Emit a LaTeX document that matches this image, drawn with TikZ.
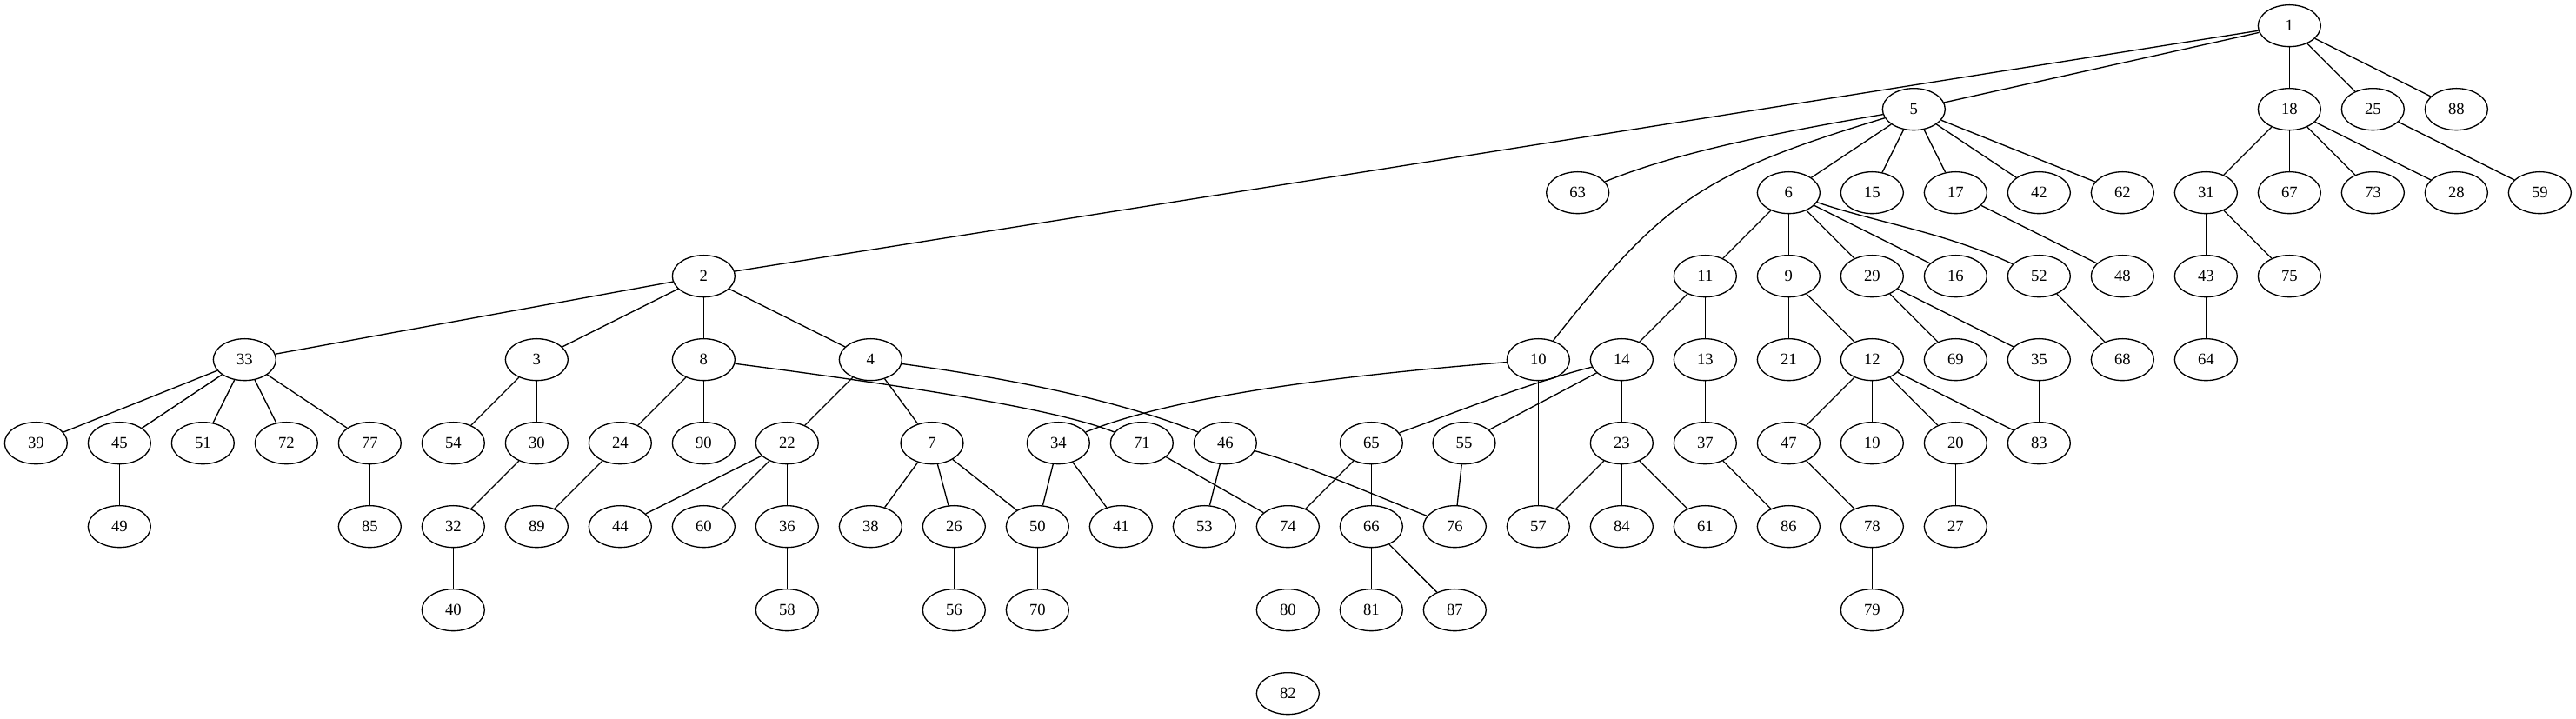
\documentclass[tikz,border=0pt]{standalone}
\usepackage{fontspec}
\setmainfont{Liberation Serif}
\usetikzlibrary{shapes.geometric}
\begin{document}
\begin{tikzpicture}[x=1pt,y=1pt,
  v/.style={draw, ellipse, minimum width=54pt, minimum height=36pt, inner sep=0pt,
            font=\fontsize{14}{16}\selectfont, line width=1pt},
  e/.style={line width=1pt}]
\useasboundingbox (0,0) rectangle (2222.25,620.25);
% rank 0
\node[v] (n1) at (1975,598) {1};
% rank 1
\foreach \n/\x in {5/1651,18/1975,25/2047,88/2119}
  \node[v] (n\n) at (\x,526) {\n};
% rank 2
\foreach \n/\x in {63/1361,6/1543,15/1615,17/1687,42/1759,62/1831,31/1903,67/1975,73/2047,28/2119,59/2191}
  \node[v] (n\n) at (\x,454) {\n};
% rank 3
\foreach \n/\x in {2/607,11/1471,9/1543,29/1615,16/1687,52/1759,48/1831,43/1903,75/1975}
  \node[v] (n\n) at (\x,382) {\n};
% rank 4
\foreach \n/\x in {33/211,3/463,8/607,4/751,10/1327,14/1399,13/1471,21/1543,12/1615,69/1687,35/1759,68/1831,64/1903}
  \node[v] (n\n) at (\x,310) {\n};
% rank 5
\foreach \n/\x in {39/31,45/103,51/175,72/247,77/319,54/391,30/463,24/535,90/607,22/679,7/804,34/913,71/985,46/1057,65/1183,55/1263,23/1399,37/1471,47/1543,19/1615,20/1687,83/1759}
  \node[v] (n\n) at (\x,238) {\n};
% rank 6
\foreach \n/\x in {49/103,85/319,32/391,89/463,44/535,60/607,36/679,38/751,26/823,50/895,41/967,53/1039,74/1111,66/1183,76/1255,57/1327,84/1399,61/1471,86/1543,78/1615,27/1687}
  \node[v] (n\n) at (\x,166) {\n};
% rank 7
\foreach \n/\x in {40/391,58/679,56/823,70/895,80/1111,81/1183,87/1255,79/1615}
  \node[v] (n\n) at (\x,94) {\n};
% rank 8
\node[v] (n82) at (1111,22) {82};
% straight edges
\foreach \a/\b in {1/2,1/5,1/18,1/25,1/88,
  5/6,5/15,5/17,5/42,5/62,
  18/31,18/67,18/73,18/28,25/59,
  2/33,2/3,2/8,2/4,
  6/11,6/9,6/29,6/16,17/48,31/43,31/75,
  11/14,11/13,9/21,9/12,29/69,29/35,52/68,43/64,
  33/39,33/45,33/51,33/72,33/77,3/54,3/30,8/24,8/90,4/22,4/7,
  10/57,14/55,14/23,13/37,12/47,12/19,12/20,12/83,35/83,
  45/49,77/85,30/32,24/89,22/44,22/60,22/36,7/38,7/26,7/50,34/50,34/41,
  71/74,46/53,65/74,65/66,55/76,23/57,23/84,23/61,37/86,47/78,20/27,
  32/40,36/58,26/56,50/70,74/80,66/81,66/87,78/79,80/82}
  \draw[e] (n\a) -- (n\b);
% curved edges
\draw[e] (n5) .. controls (1469,471) and (1435,447) .. (n10);
\draw[e] (n5) .. controls (1503,501) and (1435,484) .. (n63);
\draw[e] (n6) .. controls (1620,428) and (1677,420) .. (n52);
\draw[e] (n8) .. controls (840,280) and (925,262) .. (n71);
\draw[e] (n4) .. controls (900,290) and (983,268) .. (n46);
\draw[e] (n10) .. controls (1128,294) and (1006,275.5) .. (n34);
\draw[e] (n14) .. controls (1321,290.6) and (1258,265.4) .. (n65);
\draw[e] (n46) .. controls (1125,220) and (1199,187.5) .. (n76);
\end{tikzpicture}
\end{document}
